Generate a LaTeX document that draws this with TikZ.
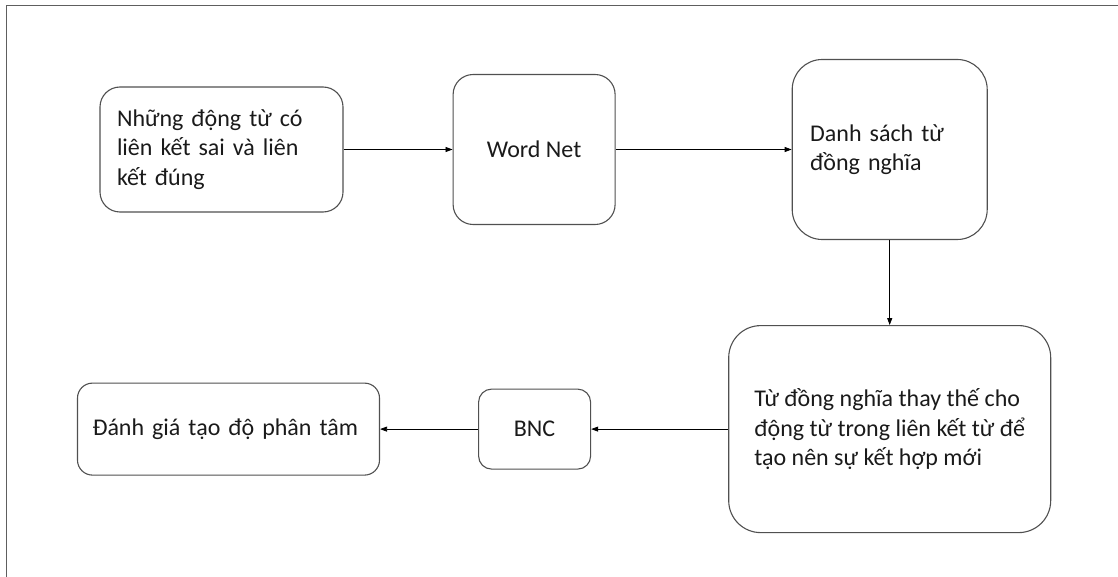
\documentclass[tikz,border=0pt]{standalone}
\usepackage{fontspec}
\setmainfont{Carlito}
\usepackage{xcolor}
\usepackage{tikz}
\usetikzlibrary{arrows.meta, positioning}
\definecolor{framegray}{HTML}{5E5E5E}
\definecolor{boxgray}{HTML}{505050}
\definecolor{textdark}{HTML}{1A1A1A}

\begin{document}
\begin{tikzpicture}[
    x=1pt, y=-1pt,
    box/.style={rectangle, draw=boxgray, line width=1.1pt, text=textdark,
        font=\fontsize{24}{29.5}\selectfont, inner xsep=17pt, inner ysep=0pt},
    arr/.style={-{Triangle[length=7pt, width=5pt]}, line width=0.8pt, black}
]
    \useasboundingbox (0,0) rectangle (1118,577);
    % frame
    \draw[framegray, line width=1.4pt] (6.5,577) -- (6.5,5.5) -- (1118,5.5);

    % top row
    \node[box, rounded corners=20pt, text width=209pt, align=left, minimum height=125pt]
        (verbs) at (221.5,149.5) {Những động từ có\\liên kết sai và liên\\kết đúng};
    \node[box, rounded corners=20pt, minimum width=162pt, minimum height=150pt, right=109pt of verbs]
        (wordnet) {Word Net};
    \node[box, rounded corners=30pt, inner xsep=18pt, text width=159pt, align=left,
        minimum height=180pt, right=176pt of wordnet] (synlist) {Danh sách từ\\đồng nghĩa};

    % bottom row
    \node[box, rounded corners=32pt, align=left, minimum width=322pt,
        minimum height=207pt, below=85pt of synlist]
        (subst) {Từ đồng nghĩa thay thế cho\\động từ trong liên kết từ để\\tạo nên sự kết hợp mới};
    \node[box, rounded corners=13pt, minimum width=112pt, minimum height=80pt, left=137pt of subst]
        (bnc) {BNC};
    \node[box, rounded corners=15pt, inner xsep=15pt, text width=272pt, align=left,
        minimum height=92pt, left=98pt of bnc] (eval) {Đánh giá tạo độ phân tâm};

    % arrows
    \foreach \a/\b in {verbs/wordnet, wordnet/synlist, synlist/subst, subst/bnc, bnc/eval}
        \draw[arr] (\a) -- (\b);
\end{tikzpicture}
\end{document}
